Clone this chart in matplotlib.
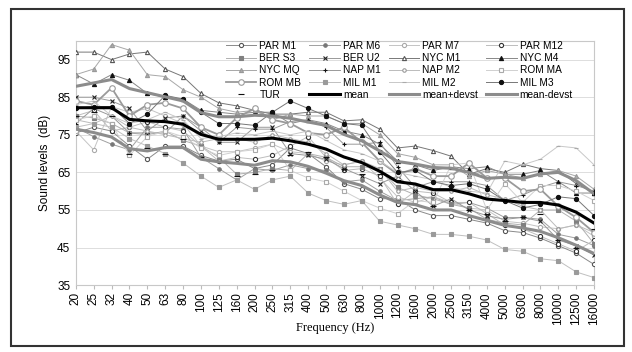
# Sound levels per measurement site, one-third octave bands
import numpy as np
import matplotlib.pyplot as plt
from matplotlib.patches import Rectangle

plt.rcParams['font.family'] = 'Liberation Sans'

freqs = ["20", "25", "32", "40", "50", "63", "80", "100", "125", "160", "200", "250",
         "315", "400", "500", "630", "800", "1000", "1200", "1600", "2000", "2500",
         "3150", "4000", "5000", "6300", "8000", "10000", "12500", "16000"]

par_m1 = [75.5, 77, 76, 72, 68.5, 72, 72, 69.5, 68, 68.5, 66, 67, 71.5, 70, 66.5, 62, 60.5, 58, 58, 55,
          53.5, 53.5, 52.5, 51.5, 49.5, 49, 47.5, 45.5, 43.5, 40.5]
par_m6 = [77, 74.5, 72.5, 71, 77, 77, 76.5, 69, 66, 63, 66, 65.5, 67, 66, 65.5, 62.5, 63, 60, 57.5, 58,
          58.5, 56.5, 57, 55.5, 53, 53, 52.5, 48.5, 47.5, 45.5]
par_m7 = [76, 71, 82.5, 81, 82, 80, 78, 72, 70.5, 70.5, 71.5, 72.5, 70.5, 70, 68, 67, 68, 63.5, 58.5, 57,
          58.5, 57, 55.5, 55, 52, 51.5, 50.5, 50, 51, 48]
par_m12 = [80, 81.5, 76, 77, 78.5, 77, 76, 72, 68, 69, 68.5, 69.5, 72, 74.5, 69, 65.5, 66, 64, 56.5, 60,
           59.5, 57, 57, 54, 51, 50, 48, 46, 44, 47]
ber_s3 = [80, 79.5, 78, 75.5, 75, 76, 73.5, 72, 69, 64.5, 65, 66, 65.5, 70, 69, 66.5, 66.5, 66, 61, 59,
          58, 56.5, 55.5, 52.5, 51.5, 51, 55, 55, 52, 46]
ber_u2 = [85, 85, 84, 82, 76, 79.5, 80, 76, 73, 73, 77, 77, 70, 69.5, 68.5, 66, 64, 62, 64, 60,
          56, 58, 55, 53.5, 52.5, 53, 52, 47, 45.5, 43]
nyc_m1 = [97, 97, 95, 96.5, 97, 92.5, 90.5, 86, 83.5, 82.7, 81.5, 80.5, 80.5, 81, 81, 78.7, 79, 76.5, 71.5, 72,
          70.8, 69.3, 64.5, 66, 65, 67.2, 66, 65.5, 62, 59.5]
nyc_m4 = [91, 88.5, 91, 89.5, 86, 85, 84.5, 81.5, 81, 80.5, 81, 81, 78, 79, 78, 76, 75, 72.5, 68, 67,
          65.5, 66.5, 66, 66.5, 64.5, 64.5, 65.5, 62.5, 59.5, 59.5]
nyc_mq = [91, 92.5, 99, 97.5, 91, 90.5, 87, 85, 82, 81, 81.5, 79, 80.5, 80, 80, 78, 78, 75, 70, 69,
          67, 67, 64, 65.5, 64.5, 63.5, 64.5, 65.5, 64, 60.5]
nap_m1 = [78, 82, 80, 75.5, 75.5, 75.5, 80, 77, 73, 77, 76.5, 76.5, 78.5, 79, 77, 72.5, 72.5, 73, 66.5, 61,
          62.5, 62.5, 62.5, 61.5, 57.5, 59, 61, 62.5, 61.5, 60]
nap_m2 = [79, 78, 80, 77, 76, 75, 74, 73, 74, 74, 73, 75, 74, 73, 70, 67, 68, 66, 60, 61,
          60, 60, 61, 59, 58, 56, 55, 50, 51, 49]
rom_ma = [79, 80, 78, 69.5, 74.5, 76, 74.5, 71.5, 69.5, 70.5, 71, 72.5, 65.5, 63.5, 62.5, 60, 57.5, 55.5, 54, 57.5,
          57, 67, 67.5, 55, 62, 57, 61.5, 61.5, 60, 57.5]
rom_mb = [84, 83, 87.5, 80, 83, 83.5, 82, 77, 75, 79.5, 82, 79, 78, 75.5, 75, 77, 73, 68, 64.5, 66,
          64, 64, 67.5, 63.5, 63.5, 60, 60.5, 56, 53, 49]
mil_m1 = [77, 78, 77, 74, 72, 70, 67.5, 64, 61, 63, 60.5, 63, 64, 59.5, 57.5, 56.5, 57.5, 52, 51, 50,
          48.5, 48.5, 48, 47, 44.5, 44, 42, 41.5, 38.5, 37]
mil_m2 = [83, 84, 80, 78, 79, 81, 79, 74, 74.5, 75.5, 75, 76, 75, 76, 73.5, 71, 70, 68, 65, 64,
          63, 61, 60, 59.5, 68, 67, 68.5, 72, 71.5, 67]
mil_m3 = [82, 82.5, 82.5, 78, 80.5, 85.5, 84.5, 81, 78, 78, 77.5, 81, 84, 82, 80, 78, 77.5, 70.5, 65, 65.5,
          62.5, 61.5, 62, 60.5, 57.5, 55.5, 56.5, 58.5, 58, 53.5]
tur = [80, 81, 80, 70, 71.5, 70, 74, 69, 68, 64, 64.5, 65.5, 69.5, 70.5, 69, 66, 64.5, 64.5, 63, 62,
       56, 61.5, 55, 54, 52, 53, 54, 47, 45, 50]

mean = [82.2, 82.2, 82.2, 79.1, 78.7, 78.5, 77.8, 75.1, 73.8, 73.8, 73.8, 74.1, 73.4, 72.5, 71.2, 69.1,
        67.6, 65.3, 62.5, 61.9, 60.4, 60.4, 59.3, 57.9, 57.5, 57.0, 57.0, 56.3, 54.4, 51.5]
mean_plus = [87.9, 88.8, 89.7, 87.3, 86.2, 85.1, 84.0, 80.9, 79.8, 79.8, 80.2, 80.0, 79.4, 78.4, 77.5, 75.1,
             73.4, 70.7, 67.9, 67.2, 66.3, 66.1, 65.0, 63.4, 63.7, 63.4, 64.6, 65.0, 62.8, 59.3]
mean_minus = [76.5, 75.6, 74.4, 71.3, 70.7, 71.6, 71.6, 68.5, 67.8, 67.4, 66.9, 68.1, 67.8, 66.6, 64.8, 62.8,
              61.5, 59.0, 57.0, 56.4, 55.0, 55.0, 53.5, 52.2, 50.9, 50.2, 49.3, 47.6, 45.6, 43.4]

x = np.arange(len(freqs))

fig = plt.figure(figsize=(6.32, 3.52), dpi=100)
ax = fig.add_axes([0.120, 0.190, 0.820, 0.694])

# (name, data, marker, line colour, marker face, marker edge, marker size, line width)
series = [
    ("PAR M1", par_m1, "o", "#8a8a8a", "white", "#555555", 3, 0.7),
    ("PAR M6", par_m6, "o", "#a0a0a0", "#777777", "#777777", 2.5, 0.7),
    ("PAR M7", par_m7, "o", "#c4c4c4", "white", "#aaaaaa", 3, 0.7),
    ("PAR M12", par_m12, "o", "#bdbdbd", "white", "#333333", 3, 0.7),
    ("BER S3", ber_s3, "s", "#b0b0b0", "#808080", "#808080", 2.5, 0.7),
    ("BER U2", ber_u2, "x", "#999999", "#222222", "#222222", 3, 0.7),
    ("NYC M1", nyc_m1, "^", "#777777", "white", "#555555", 3, 0.7),
    ("NYC M4", nyc_m4, "^", "#888888", "#111111", "#111111", 3, 0.7),
    ("NYC MQ", nyc_mq, "^", "#a8a8a8", "#aaaaaa", "#999999", 3, 0.7),
    ("NAP M1", nap_m1, "+", "#999999", "#111111", "#111111", 3, 0.7),
    ("NAP M2", nap_m2, "o", "#bbbbbb", "white", "#999999", 2.5, 0.7),
    ("ROM MA", rom_ma, "s", "#d0d0d0", "white", "#aaaaaa", 3.5, 0.7),
    ("ROM MB", rom_mb, "o", "#9a9a9a", "white", "#9a9a9a", 4, 1.3),
    ("MIL M1", mil_m1, "s", "#c0c0c0", "#9a9a9a", "#9a9a9a", 2.5, 0.7),
    ("MIL M2", mil_m2, "_", "#c8c8c8", "#aaaaaa", "#aaaaaa", 3, 0.7),
    ("MIL M3", mil_m3, "o", "#777777", "#111111", "#111111", 3, 0.7),
    ("TUR", tur, "_", "none", "#111111", "#111111", 5, 0.0),
]

handles = []
for name, vals, mk, lc, mfc, mec, ms, lw in series:
    ls = "-" if lw > 0 else "none"
    h, = ax.plot(x, vals, color=lc, lw=lw, ls=ls, marker=mk, markersize=ms,
                 markerfacecolor=mfc, markeredgecolor=mec, markeredgewidth=0.8,
                 label=name, zorder=3)
    handles.append(h)

h, = ax.plot(x, mean, color="black", lw=2.2, label="mean", zorder=5)
handles.append(h)
h, = ax.plot(x, mean_plus, color="#8c8c8c", lw=2.2, label="mean+devst", zorder=4)
handles.append(h)
h, = ax.plot(x, mean_minus, color="#8c8c8c", lw=2.2, label="mean-devst", zorder=4)
handles.append(h)

ax.set_xlim(0, len(freqs) - 1)
ax.set_ylim(35, 100)
ax.set_yticks(range(35, 100, 10))
ax.set_xticks(x)
ax.set_xticklabels(freqs, rotation=90, fontsize=8.5)
ax.tick_params(axis="y", labelsize=8.5, length=0, pad=4)
ax.tick_params(axis="x", length=3, color="#bbbbbb", pad=2)
ax.yaxis.grid(True, color="#dddddd", lw=0.7, zorder=0)
for s in ax.spines.values():
    s.set_color("#c8c8c8")
    s.set_linewidth(0.8)

ax.set_ylabel("Sound levels  (dB)", fontsize=8.5, labelpad=4)
ax.set_xlabel("Frequency (Hz)", fontsize=9, family="Liberation Serif")
ax.xaxis.set_label_coords(0.5, -0.152)

# legend reads row by row in the original, matplotlib fills by column
ncol, nrow = 4, 5
ordered = [handles[r * ncol + c] for c in range(ncol) for r in range(nrow) if r * ncol + c < len(handles)]
ax.legend(handles=ordered, ncol=ncol, loc="upper left", bbox_to_anchor=(226 / 632, 1 - 41 / 352),
          bbox_transform=fig.transFigure, frameon=False, fontsize=7.3, handlelength=3.0,
          handletextpad=0.3, columnspacing=0.8, labelspacing=0.22, borderpad=0, borderaxespad=0)

fig.patches.append(Rectangle((11 / 632, 6 / 352), 613 / 632, 337 / 352, transform=fig.transFigure,
                             fill=False, edgecolor="#333333", lw=1.5))

fig.savefig("out.png", dpi=100)
